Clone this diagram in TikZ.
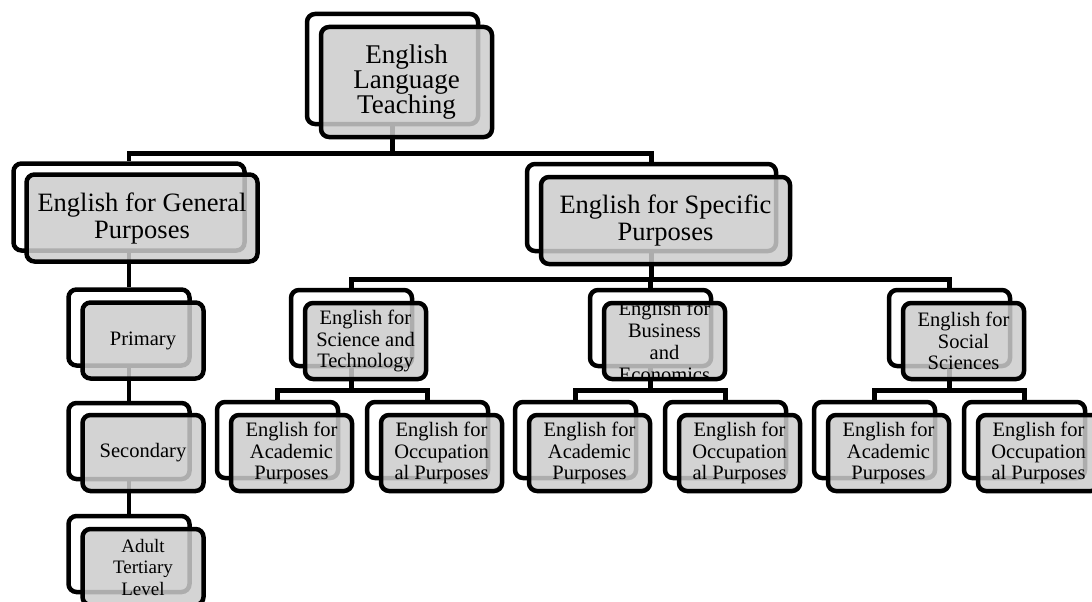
\documentclass[tikz,border=0pt]{standalone}
\usepackage{fontspec}
\setmainfont{Liberation Serif}
\usetikzlibrary{backgrounds}

\begin{document}
\begin{tikzpicture}[x=1pt,y=-1pt]
			\tikzset{backbox/.style = {draw, line width=4.5pt, rounded corners=8pt,
					fill=white, inner sep=0pt}}
			\tikzset{frontbox/.style = {draw, line width=4.5pt, rounded corners=8pt,
					fill=black!20, fill opacity=0.85, text opacity=1,
					inner sep=0pt, align=center}}
			\tikzset{sizetop/.style = {minimum width=171pt, minimum height=110pt,
					font=\fontsize{27}{25}\selectfont}}
			\tikzset{sizeone/.style = {minimum width=231pt, minimum height=87pt,
					font=\fontsize{26.5}{27}\selectfont}}
			\tikzset{sizetwo/.style = {minimum width=121pt, minimum height=76pt,
					font=\fontsize{20.5}{21.5}\selectfont}}
			\tikzset{conn/.style = {line width=4.5pt}}
			
			\useasboundingbox (0,0) rectangle (1092,602);
			\clip (0,0) rectangle (1092,602);
			
			% boxes
			\node[backbox, sizetop] (eltB) at (392.5,69) {};
			\node[frontbox, sizetop] (elt) at ([shift={(14,13)}]eltB.center)
				{English\\Language\\Teaching};
			
			\node[backbox, sizeone] (egpB) at (129,207) {};
			\node[frontbox, sizeone] (egp) at ([shift={(13,11)}]egpB.center)
				{English for General\\Purposes};
			\node[backbox, sizeone, minimum width=249pt] (espB) at (651.5,207.5) {};
			\node[frontbox, sizeone, minimum width=249pt] (esp)
				at ([shift={(14,13)}]espB.center) {English for Specific\\Purposes};
			
			\node[backbox, sizetwo] (priB) at (129,327.5) {};
			\node[frontbox, sizetwo] (pri) at ([shift={(14,13)}]priB.center) {Primary};
			\node[backbox, sizetwo] (secB) at (129,441) {};
			\node[frontbox, sizetwo] (sec) at ([shift={(14,12)}]secB.center) {Secondary};
			\node[backbox, sizetwo] (adlB) at (129,554) {};
			\node[frontbox, sizetwo, font=\fontsize{19}{21.5}\selectfont] (adl)
				at ([shift={(14,13)}]adlB.center) {Adult\\Tertiary\\Level};
			
			\node[backbox, sizetwo] (estB) at (351.5,328) {};
			\node[frontbox, sizetwo] (est) at ([shift={(14,13)}]estB.center)
				{English for\\Science and\\Technology};
			\node[backbox, sizetwo] (ebeB) at (650.5,328) {};
			\node[frontbox, sizetwo, path picture={\node[text opacity=1, fill opacity=1,
					align=center, font=\fontsize{20.5}{22}\selectfont]
					at (path picture bounding box.center)
					{English for\\Business\\and\\Economics};}] (ebe)
				at ([shift={(14,13)}]ebeB.center) {};
			\node[backbox, sizetwo] (essB) at (949.5,328) {};
			\node[frontbox, sizetwo] (ess) at ([shift={(14,13)}]essB.center)
				{English for\\Social\\Sciences};
			
			\node[backbox, sizetwo] (eap1B) at (277.5,440) {};
			\node[frontbox, sizetwo] (eap1) at ([shift={(14,13)}]eap1B.center)
				{English for\\Academic\\Purposes};
			\node[backbox, sizetwo] (eop1B) at (427.5,440) {};
			\node[frontbox, sizetwo] (eop1) at ([shift={(14,13)}]eop1B.center)
				{English for\\Occupation\\al Purposes};
			\node[backbox, sizetwo] (eap2B) at (575.5,440) {};
			\node[frontbox, sizetwo] (eap2) at ([shift={(14,13)}]eap2B.center)
				{English for\\Academic\\Purposes};
			\node[backbox, sizetwo] (eop2B) at (725.5,440) {};
			\node[frontbox, sizetwo] (eop2) at ([shift={(14,13)}]eop2B.center)
				{English for\\Occupation\\al Purposes};
			\node[backbox, sizetwo] (eap3B) at (874.5,440) {};
			\node[frontbox, sizetwo] (eap3) at ([shift={(14,13)}]eap3B.center)
				{English for\\Academic\\Purposes};
			\node[backbox, sizetwo] (eop3B) at (1024.5,440) {};
			\node[frontbox, sizetwo] (eop3) at ([shift={(14,13)}]eop3B.center)
				{English for\\Occupation\\al Purposes};
			
			% connectors
			\begin{scope}[on background layer]
			\draw[conn] (eltB.south) -- ++(0,27) -| (egpB.north);
			\draw[conn] (eltB.south) -- ++(0,27) -| (espB.north);
			
			\draw[conn] (egpB.south) -- (priB.north);
			\draw[conn] (priB.south) -- (secB.north);
			\draw[conn] (secB.south) -- (adlB.north);
			
			\draw[conn] (espB.south) -- ++(0,26) -| (estB.north);
			\draw[conn] (espB.south) -- ++(0,26) -| (ebeB.north);
			\draw[conn] (espB.south) -- ++(0,26) -| (essB.north);
			
			\draw[conn] (estB.south) -- ++(0,22) -| (eap1B.north);
			\draw[conn] (estB.south) -- ++(0,22) -| (eop1B.north);
			\draw[conn] (ebeB.south) -- ++(0,22) -| (eap2B.north);
			\draw[conn] (ebeB.south) -- ++(0,22) -| (eop2B.north);
			\draw[conn] (essB.south) -- ++(0,22) -| (eap3B.north);
			\draw[conn] (essB.south) -- ++(0,22) -| (eop3B.north);
			\end{scope}
\end{tikzpicture}
\end{document}
